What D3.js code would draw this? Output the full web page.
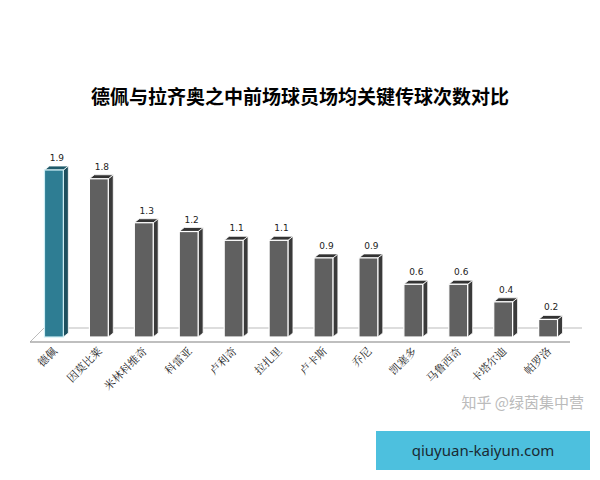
<!DOCTYPE html><html><head><meta charset="utf-8"><script src="https://cdn.jsdelivr.net/npm/d3@7"></script>
<style>body{margin:0;background:#fff}</style></head><body><svg id="c" width="600" height="480"></svg>
<script>
const categories=["德佩","因莫比莱","米林科维奇","科雷亚","卢利奇","拉扎里","卢卡斯","乔尼","凯塞多","马鲁西奇","卡塔尔迪","帕罗洛"];
const values=[1.9,1.8,1.3,1.2,1.1,1.1,0.9,0.9,0.6,0.6,0.4,0.2];
const svg=d3.select("#c");
svg.append("text").attr("x",300).attr("y",104).attr("text-anchor","middle").attr("font-family","Noto Sans CJK SC").attr("font-weight","bold").attr("font-size",19).text("德佩与拉齐奥之中前场球员场均关键传球次数对比");
const x=d3.scaleBand().domain(categories).range([31,571]).paddingInner(0.58).paddingOuter(0.3);
const y=d3.scaleLinear().domain([0,1.9]).range([337,170]);
const dx=5,dy=4;
svg.append("line").attr("x1",44).attr("x2",582).attr("y1",328).attr("y2",328).attr("stroke","#bbb");
svg.append("line").attr("x1",30).attr("x2",44).attr("y1",342).attr("y2",328).attr("stroke","#bbb");
svg.append("line").attr("x1",30).attr("x2",570).attr("y1",342).attr("y2",342).attr("stroke","#aaa").attr("stroke-width",1.5);
const g=svg.append("g");
categories.forEach((c,i)=>{
 const x0=x(c),w=x.bandwidth(),t=y(values[i]),b=y(0);
 const main=i==0?"#2e7d93":"#606060",side=i==0?"#1d4f5e":"#3a3a3a",top=i==0?"#1f5a6a":"#333";
 g.append("path").attr("d",`M${x0+w},${t} L${x0+w+dx},${t-dy} L${x0+w+dx},${b-dy} L${x0+w},${b} Z`).attr("fill",side).attr("stroke","#fff").attr("stroke-width",0.8);
 g.append("path").attr("d",`M${x0},${t} L${x0+dx},${t-dy} L${x0+w+dx},${t-dy} L${x0+w},${t} Z`).attr("fill",top).attr("stroke","#fff").attr("stroke-width",0.8);
 g.append("rect").attr("x",x0).attr("y",t).attr("width",w).attr("height",b-t).attr("fill",main).attr("stroke",i==0?"#cfeff5":"#fff").attr("stroke-width",1.2);
 g.append("text").attr("x",x0+w/2+3).attr("y",t-9).attr("text-anchor","middle").attr("font-family","DejaVu Sans").attr("font-size",9).attr("fill","#222").text(values[i].toFixed(1));
 g.append("text").attr("transform",`translate(${x0+w/2+4},${352}) rotate(-45)`).attr("text-anchor","end").attr("font-family","Noto Serif CJK SC, Noto Sans CJK SC").attr("font-size",11).attr("fill","#222").text(c);
});
svg.append("text").attr("x",584).attr("y",408).attr("text-anchor","end").attr("font-family","Noto Sans CJK SC").attr("font-size",15).attr("fill","#bbb").text("知乎 @绿茵集中营");
svg.append("rect").attr("x",376).attr("y",431).attr("width",214).attr("height",39).attr("fill","#4dc0de");
svg.append("text").attr("x",483).attr("y",456).attr("text-anchor","middle").attr("font-family","Noto Sans").attr("font-size",15).attr("fill","#1a2a33").text("qiuyuan-kaiyun.com");
</script></body></html>
